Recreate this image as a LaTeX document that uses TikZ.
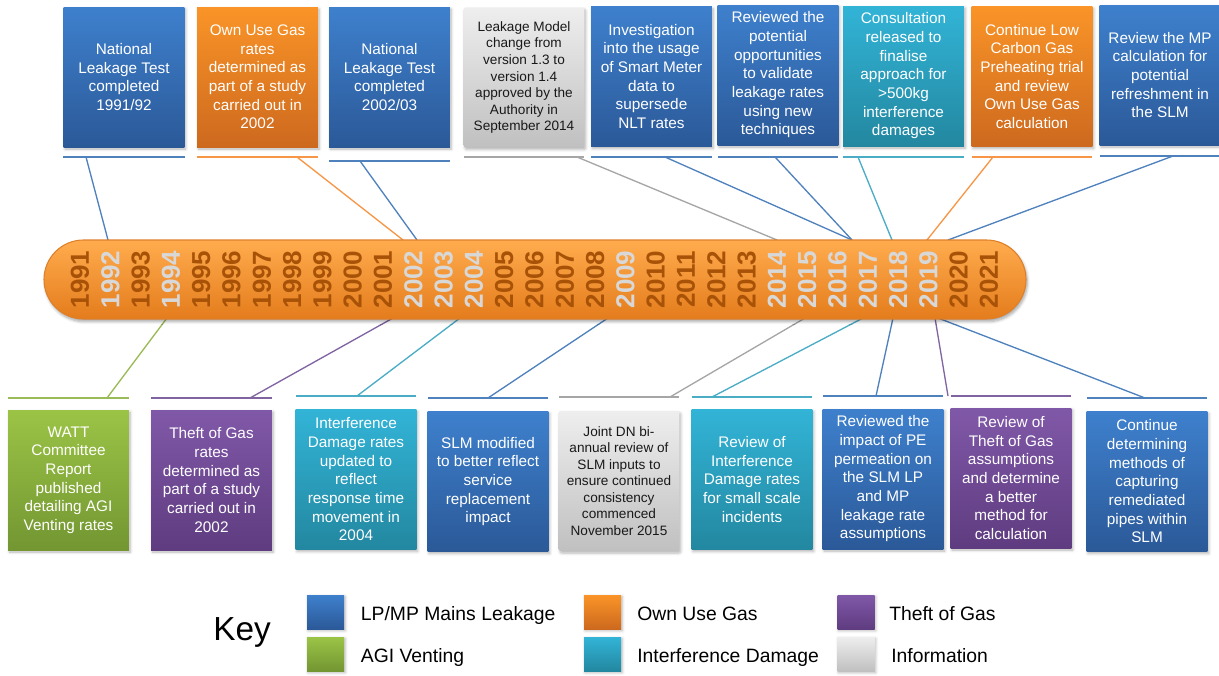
\documentclass[tikz,border=0pt]{standalone}
\usepackage{xcolor}
\usepackage{fontspec}
\setmainfont{Liberation Sans}
\usepackage{tikz}
\usetikzlibrary{shadows.blur}

\definecolor{lpTop}{RGB}{62,128,205}
\definecolor{lpBot}{RGB}{43,89,152}
\definecolor{ougTop}{RGB}{250,148,40}
\definecolor{ougBot}{RGB}{205,105,30}
\definecolor{tofgTop}{RGB}{128,88,168}
\definecolor{tofgBot}{RGB}{95,60,128}
\definecolor{agiTop}{RGB}{155,196,70}
\definecolor{agiBot}{RGB}{115,150,50}
\definecolor{idTop}{RGB}{50,180,215}
\definecolor{idBot}{RGB}{35,135,160}
\definecolor{infoTop}{RGB}{238,238,238}
\definecolor{infoBot}{RGB}{192,192,192}
\definecolor{lnLp}{RGB}{79,129,189}
\definecolor{lnOug}{RGB}{247,150,70}
\definecolor{lnTofg}{RGB}{128,100,162}
\definecolor{lnAgi}{RGB}{155,187,89}
\definecolor{lnId}{RGB}{75,172,198}
\definecolor{lnInfo}{RGB}{166,166,166}
\definecolor{yrDark}{RGB}{168,82,8}
\definecolor{yrLight}{RGB}{216,216,216}

\tikzset{
  evbox/.style={minimum width=90.5pt, minimum height=105pt, inner sep=0pt, align=center,
    text=white, font=\fontsize{11.5}{14}\selectfont,
    blur shadow={shadow blur steps=5, shadow xshift=1pt, shadow yshift=-1.5pt, shadow opacity=30}},
  lpbox/.style={evbox, top color=lpTop, bottom color=lpBot},
  ougbox/.style={evbox, top color=ougTop, bottom color=ougBot},
  tofgbox/.style={evbox, top color=tofgTop, bottom color=tofgBot},
  agibox/.style={evbox, top color=agiTop, bottom color=agiBot},
  idbox/.style={evbox, top color=idTop, bottom color=idBot},
  infobox/.style={evbox, top color=infoTop, bottom color=infoBot, text={rgb,255:red,25;green,25;blue,25},
    font=\fontsize{10.2}{12.4}\selectfont, rounded corners=1.5pt},
  uline/.style={line width=1.3pt},
  conn/.style={line width=1pt},
  yrdk/.style={rotate=90, inner sep=0pt, text=yrDark, font=\fontsize{19.5}{20}\bfseries},
  yrlt/.style={yrdk, text=yrLight},
  keysq/.style={minimum width=27.75pt, minimum height=25.5pt, inner sep=0pt,
    blur shadow={shadow blur steps=4, shadow xshift=0.8pt, shadow yshift=-1.2pt, shadow opacity=30}},
  keytxt/.style={anchor=base west, inner sep=0pt, font=\fontsize{14.5}{17}\selectfont}
}

\begin{document}
\begin{tikzpicture}[x=0.75pt,y=0.75pt,yscale=-1,xscale=1]
\useasboundingbox (0,0) rectangle (1219,675);

%Straight Lines [top connectors]
\coordinate (ut1) at (86,157);    \coordinate (bt1) at (108,240);
\coordinate (ut2) at (297,157);   \coordinate (bt2) at (403,240);
\coordinate (ut3) at (360,161);   \coordinate (bt3) at (417,240);
\coordinate (ut4) at (577,157);   \coordinate (bt4) at (777,240);
\coordinate (ut5) at (665,157);   \coordinate (bt5) at (852,240);
\coordinate (ut6) at (775,157);   \coordinate (bt6) at (852,240);
\coordinate (ut7) at (858,157);   \coordinate (bt7) at (892,240);
\coordinate (ut8) at (993,157);   \coordinate (bt8) at (927,240);
\coordinate (ut9) at (1173,156);  \coordinate (bt9) at (948,240);
\draw [conn, lnLp]   (ut1) -- (bt1) ;
\draw [conn, lnOug]  (ut2) -- (bt2) ;
\draw [conn, lnLp]   (ut3) -- (bt3) ;
\draw [conn, lnInfo] (ut4) -- (bt4) ;
\draw [conn, lnLp]   (ut5) -- (bt5) ;
\draw [conn, lnLp]   (ut6) -- (bt6) ;
\draw [conn, lnId]   (ut7) -- (bt7) ;
\draw [conn, lnOug]  (ut8) -- (bt8) ;
\draw [conn, lnLp]   (ut9) -- (bt9) ;

%Straight Lines [bottom connectors]
\coordinate (bb1) at (167,318);   \coordinate (ub1) at (107,398);
\coordinate (bb2) at (393,318);   \coordinate (ub2) at (250,398);
\coordinate (bb3) at (460,318);   \coordinate (ub3) at (357,396);
\coordinate (bb4) at (608,318);   \coordinate (ub4) at (488,398);
\coordinate (bb5) at (805,318);   \coordinate (ub5) at (670,397);
\coordinate (bb6) at (863,318);   \coordinate (ub6) at (712,397);
\coordinate (bb7) at (893,318);   \coordinate (ub7) at (876,396);
\coordinate (bb8) at (935,318);   \coordinate (ub8) at (948,396);
\coordinate (bb9) at (938,318);   \coordinate (ub9) at (1145,398);
\draw [conn, lnAgi]  (bb1) -- (ub1) ;
\draw [conn, lnTofg] (bb2) -- (ub2) ;
\draw [conn, lnId]   (bb3) -- (ub3) ;
\draw [conn, lnLp]   (bb4) -- (ub4) ;
\draw [conn, lnInfo] (bb5) -- (ub5) ;
\draw [conn, lnId]   (bb6) -- (ub6) ;
\draw [conn, lnLp]   (bb7) -- (ub7) ;
\draw [conn, lnTofg] (bb8) -- (ub8) ;
\draw [conn, lnLp]   (bb9) -- (ub9) ;

%Shape: Rounded Rect [timeline bar]
\draw (535,279.5) node [minimum width=736.5pt, minimum height=59.25pt, rounded corners=29.6pt,
  top color={rgb,255:red,255;green,172;blue,78}, middle color={rgb,255:red,249;green,148;blue,45},
  bottom color={rgb,255:red,228;green,124;blue,28}, draw={rgb,255:red,222;green,128;blue,42}, line width=0.8pt,
  blur shadow={shadow blur steps=6, shadow xshift=1pt, shadow yshift=-2pt, shadow opacity=35}] (bar) {};

% Text Node [years]
\draw (80,279.5) node [yrdk] (y1991) {1991};
\draw (110.3,279.5) node [yrlt] (y1992) {1992};
\draw (140.6,279.5) node [yrdk] (y1993) {1993};
\draw (170.9,279.5) node [yrlt] (y1994) {1994};
\draw (201.2,279.5) node [yrdk] (y1995) {1995};
\draw (231.5,279.5) node [yrdk] (y1996) {1996};
\draw (261.8,279.5) node [yrdk] (y1997) {1997};
\draw (292.1,279.5) node [yrdk] (y1998) {1998};
\draw (322.4,279.5) node [yrdk] (y1999) {1999};
\draw (352.7,279.5) node [yrdk] (y2000) {2000};
\draw (383,279.5) node [yrdk] (y2001) {2001};
\draw (413.3,279.5) node [yrlt] (y2002) {2002};
\draw (443.6,279.5) node [yrlt] (y2003) {2003};
\draw (473.9,279.5) node [yrlt] (y2004) {2004};
\draw (504.2,279.5) node [yrdk] (y2005) {2005};
\draw (534.5,279.5) node [yrdk] (y2006) {2006};
\draw (564.8,279.5) node [yrdk] (y2007) {2007};
\draw (595.1,279.5) node [yrdk] (y2008) {2008};
\draw (625.4,279.5) node [yrlt] (y2009) {2009};
\draw (655.7,279.5) node [yrdk] (y2010) {2010};
\draw (686,279.5) node [yrdk] (y2011) {2011};
\draw (716.3,279.5) node [yrdk] (y2012) {2012};
\draw (746.6,279.5) node [yrdk] (y2013) {2013};
\draw (776.9,279.5) node [yrlt] (y2014) {2014};
\draw (807.2,279.5) node [yrlt] (y2015) {2015};
\draw (837.5,279.5) node [yrlt] (y2016) {2016};
\draw (867.8,279.5) node [yrlt] (y2017) {2017};
\draw (898.1,279.5) node [yrlt] (y2018) {2018};
\draw (928.4,279.5) node [yrlt] (y2019) {2019};
\draw (958.7,279.5) node [yrdk] (y2020) {2020};
\draw (989,279.5) node [yrdk] (y2021) {2021};

%Shape: Rectangle [top events]
\draw (124,77) node [lpbox] (n1) {National\\Leakage Test\\completed\\1991/92};
\draw (257.5,77) node [ougbox] (n2) {Own Use Gas\\rates\\determined as\\part of a study\\carried out in\\2002};
\draw (389.5,77) node [lpbox] (n3) {National\\Leakage Test\\completed\\2002/03};
\draw (524,77.5) node [infobox] (n4) {Leakage Model\\change from\\version 1.3 to\\version 1.4\\approved by the\\Authority in\\September 2014};
\draw (651.5,76.5) node [lpbox] (n5) {Investigation\\into the usage\\of Smart Meter\\data to\\supersede\\NLT rates};
\draw (778,75) node [lpbox] (n6) {Reviewed the\\potential\\opportunities\\to validate\\leakage rates\\using new\\techniques};
\draw (903.5,76) node [idbox] (n7) {Consultation\\released to\\finalise\\approach for\\>500kg\\interference\\damages};
\draw (1032,76.5) node [ougbox] (n8) {Continue Low\\Carbon Gas\\Preheating trial\\and review\\Own Use Gas\\calculation};
\draw (1160,75) node [lpbox] (n9) {Review the MP\\calculation for\\potential\\refreshment in\\the SLM};

%Straight Lines [top underlines]
\draw [uline, lnLp]   (63,157) -- (185,157) ;
\draw [uline, lnOug]  (197,157) -- (318,157) ;
\draw [uline, lnLp]   (329,161) -- (450,161) ;
\draw [uline, lnInfo] (464,157) -- (584,157) ;
\draw [uline, lnLp]   (591,157) -- (712,157) ;
\draw [uline, lnLp]   (718,157) -- (838,157) ;
\draw [uline, lnId]   (843,157) -- (964,157) ;
\draw [uline, lnOug]  (972,157) -- (1092,157) ;
\draw [uline, lnLp]   (1100,156) -- (1219,156) ;

%Shape: Rectangle [bottom events]
\draw (68.5,480) node [agibox] (m1) {WATT\\Committee\\Report\\published\\detailing AGI\\Venting rates};
\draw (211.5,480) node [tofgbox] (m2) {Theft of Gas\\rates\\determined as\\part of a study\\carried out in\\2002};
\draw (356,479.5) node [idbox] (m3) {Interference\\Damage rates\\updated to\\reflect\\response time\\movement in\\2004};
\draw (488,481.5) node [lpbox] (m4) {SLM modified\\to better reflect\\service\\replacement\\impact};
\draw (619,481) node [infobox] (m5) {Joint DN bi-\\annual review of\\SLM inputs to\\ensure continued\\consistency\\commenced\\November 2015};
\draw (752,479.5) node [idbox] (m6) {Review of\\Interference\\Damage rates\\for small scale\\incidents};
\draw (883,479) node [lpbox] (m7) {Reviewed the\\impact of PE\\permeation on\\the SLM LP\\and MP\\leakage rate\\assumptions};
\draw (1011,478) node [tofgbox] (m8) {Review of\\Theft of Gas\\assumptions\\and determine\\a better\\method for\\calculation};
\draw (1147,481.5) node [lpbox] (m9) {Continue\\determining\\methods of\\capturing\\remediated\\pipes within\\SLM};

%Straight Lines [bottom underlines]
\draw [uline, lnAgi]  (8,398) -- (129,398) ;
\draw [uline, lnTofg] (151,398) -- (272,398) ;
\draw [uline, lnId]   (296,396) -- (416,396) ;
\draw [uline, lnLp]   (428,398) -- (548,398) ;
\draw [uline, lnInfo] (559,397) -- (679,397) ;
\draw [uline, lnId]   (692,397) -- (812,397) ;
\draw [uline, lnLp]   (823,396) -- (943,396) ;
\draw [uline, lnTofg] (951,396) -- (1071,396) ;
\draw [uline, lnLp]   (1087,398) -- (1207,398) ;

% Text Node [key]
\draw (213,640) node [anchor=base west, inner sep=0pt, font=\fontsize{25}{30}\selectfont] (key) {Key};
\draw (325.5,612) node [keysq, top color=lpTop, bottom color=lpBot] (k1) {};
\draw (325.5,654) node [keysq, top color=agiTop, bottom color=agiBot] (k2) {};
\draw (602.5,612) node [keysq, top color=ougTop, bottom color=ougBot] (k3) {};
\draw (602.5,654) node [keysq, top color=idTop, bottom color=idBot] (k4) {};
\draw (856,612) node [keysq, top color=tofgTop, bottom color=tofgBot] (k5) {};
\draw (856,654) node [keysq, top color=infoTop, bottom color=infoBot] (k6) {};
\draw (360.7,620) node [keytxt] (l1) {LP/MP Mains Leakage};
\draw (360.7,662) node [keytxt] (l2) {AGI Venting};
\draw (637,620) node [keytxt] (l3) {Own Use Gas};
\draw (637,662) node [keytxt] (l4) {Interference Damage};
\draw (889,620) node [keytxt] (l5) {Theft of Gas};
\draw (891,662) node [keytxt] (l6) {Information};

\end{tikzpicture}
\end{document}
